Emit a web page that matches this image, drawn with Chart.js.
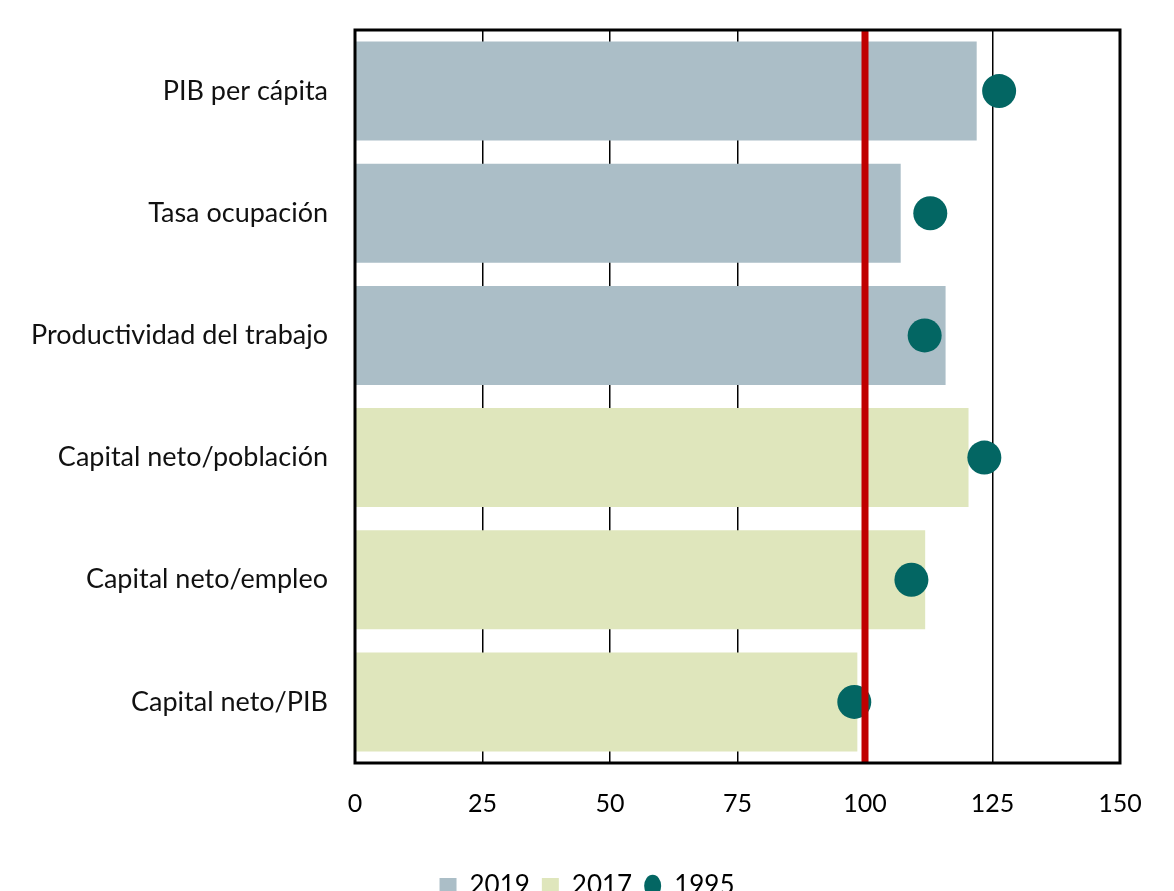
<!DOCTYPE html>
<html>
<head>
<meta charset="utf-8">
<script src="https://cdn.jsdelivr.net/npm/chart.js@4.4.0/dist/chart.umd.min.js"></script>
<style>
  html, body { margin: 0; padding: 0; background: #fff; overflow: hidden; }
  #wrap { width: 1174px; height: 909px; }
</style>
</head>
<body>
<div id="wrap"><canvas id="chart"></canvas></div>
<script>
const categories = ['PIB per cápita', 'Tasa ocupación', 'Productividad del trabajo',
  'Capital neto/población', 'Capital neto/empleo', 'Capital neto/PIB'];
const values2019 = [121.9, 107.0, 115.8, null, null, null];
const values2017 = [null, null, null, 120.3, 111.8, 98.5];
const values1995 = [126.3, 112.8, 111.7, 123.4, 109.1, 97.9];
const xTicks = [0, 25, 50, 75, 100, 125, 150];
const refValue = 100;

const fontFamily = 'Lato, "Open Sans", sans-serif';

const frameAndRef = {
  id: 'frameAndRef',
  afterDatasetsDraw(chart) {
    const { ctx, chartArea: a, scales } = chart;
    ctx.save();
    // red reference line
    const x = scales.x.getPixelForValue(refValue);
    ctx.strokeStyle = '#c00000';
    ctx.lineWidth = 7;
    ctx.beginPath();
    ctx.moveTo(x, a.top);
    ctx.lineTo(x, a.bottom);
    ctx.stroke();
    // plot frame
    ctx.strokeStyle = '#000';
    ctx.lineWidth = 3;
    ctx.strokeRect(a.left, a.top, a.right - a.left, a.bottom - a.top);
    ctx.restore();
  }
};

const ctx = document.getElementById('chart');

new Chart(ctx, {
  type: 'bar',
  data: {
    labels: categories,
    datasets: [{
      label: '2019',
      data: values2019,
      backgroundColor: '#abbec7',
      grouped: false,
      categoryPercentage: 0.81,
      barPercentage: 1,
      pointStyle: 'rect',
      order: 2
    }, {
      label: '2017',
      data: values2017,
      backgroundColor: '#dfe6bc',
      grouped: false,
      categoryPercentage: 0.81,
      barPercentage: 1,
      pointStyle: 'rect',
      order: 2
    }, {
      type: 'line',
      label: '1995',
      data: values1995,
      showLine: false,
      pointStyle: 'circle',
      pointRadius: 17,
      pointHoverRadius: 17,
      pointBorderWidth: 0,
      backgroundColor: '#036663',
      borderColor: '#036663',
      order: 1
    }]
  },
  options: {
    indexAxis: 'y',
    responsive: true,
    maintainAspectRatio: false,
    animation: false,
    layout: { padding: { top: 30, right: 0, left: 0, bottom: 0 } },
    scales: {
      x: {
        min: 0,
        max: 150,
        afterBuildTicks: s => { s.ticks = xTicks.map(v => ({ value: v })); },
        afterFit: s => { s.height = 98; s.paddingRight = 54; },
        grid: { color: '#000', lineWidth: 1.5, drawTicks: false },
        border: { display: false },
        ticks: { padding: 26, color: '#000', font: { family: fontFamily, size: 25 } }
      },
      y: {
        afterFit: s => { s.width = 355; s.paddingTop = 0; s.paddingBottom = 0; },
        grid: { display: false, drawTicks: false },
        border: { display: false },
        ticks: { padding: 27, color: '#111', font: { family: fontFamily, size: 27 } }
      }
    },
    plugins: {
      tooltip: { enabled: false },
      legend: {
        position: 'bottom',
        labels: {
          usePointStyle: true,
          pointStyleWidth: 17,
          boxHeight: 16,
          padding: 12,
          color: '#000',
          font: { family: fontFamily, size: 26 },
          sort: (a, b) => a.datasetIndex - b.datasetIndex
        }
      }
    }
  },
  plugins: [frameAndRef]
});
</script>
</body>
</html>
